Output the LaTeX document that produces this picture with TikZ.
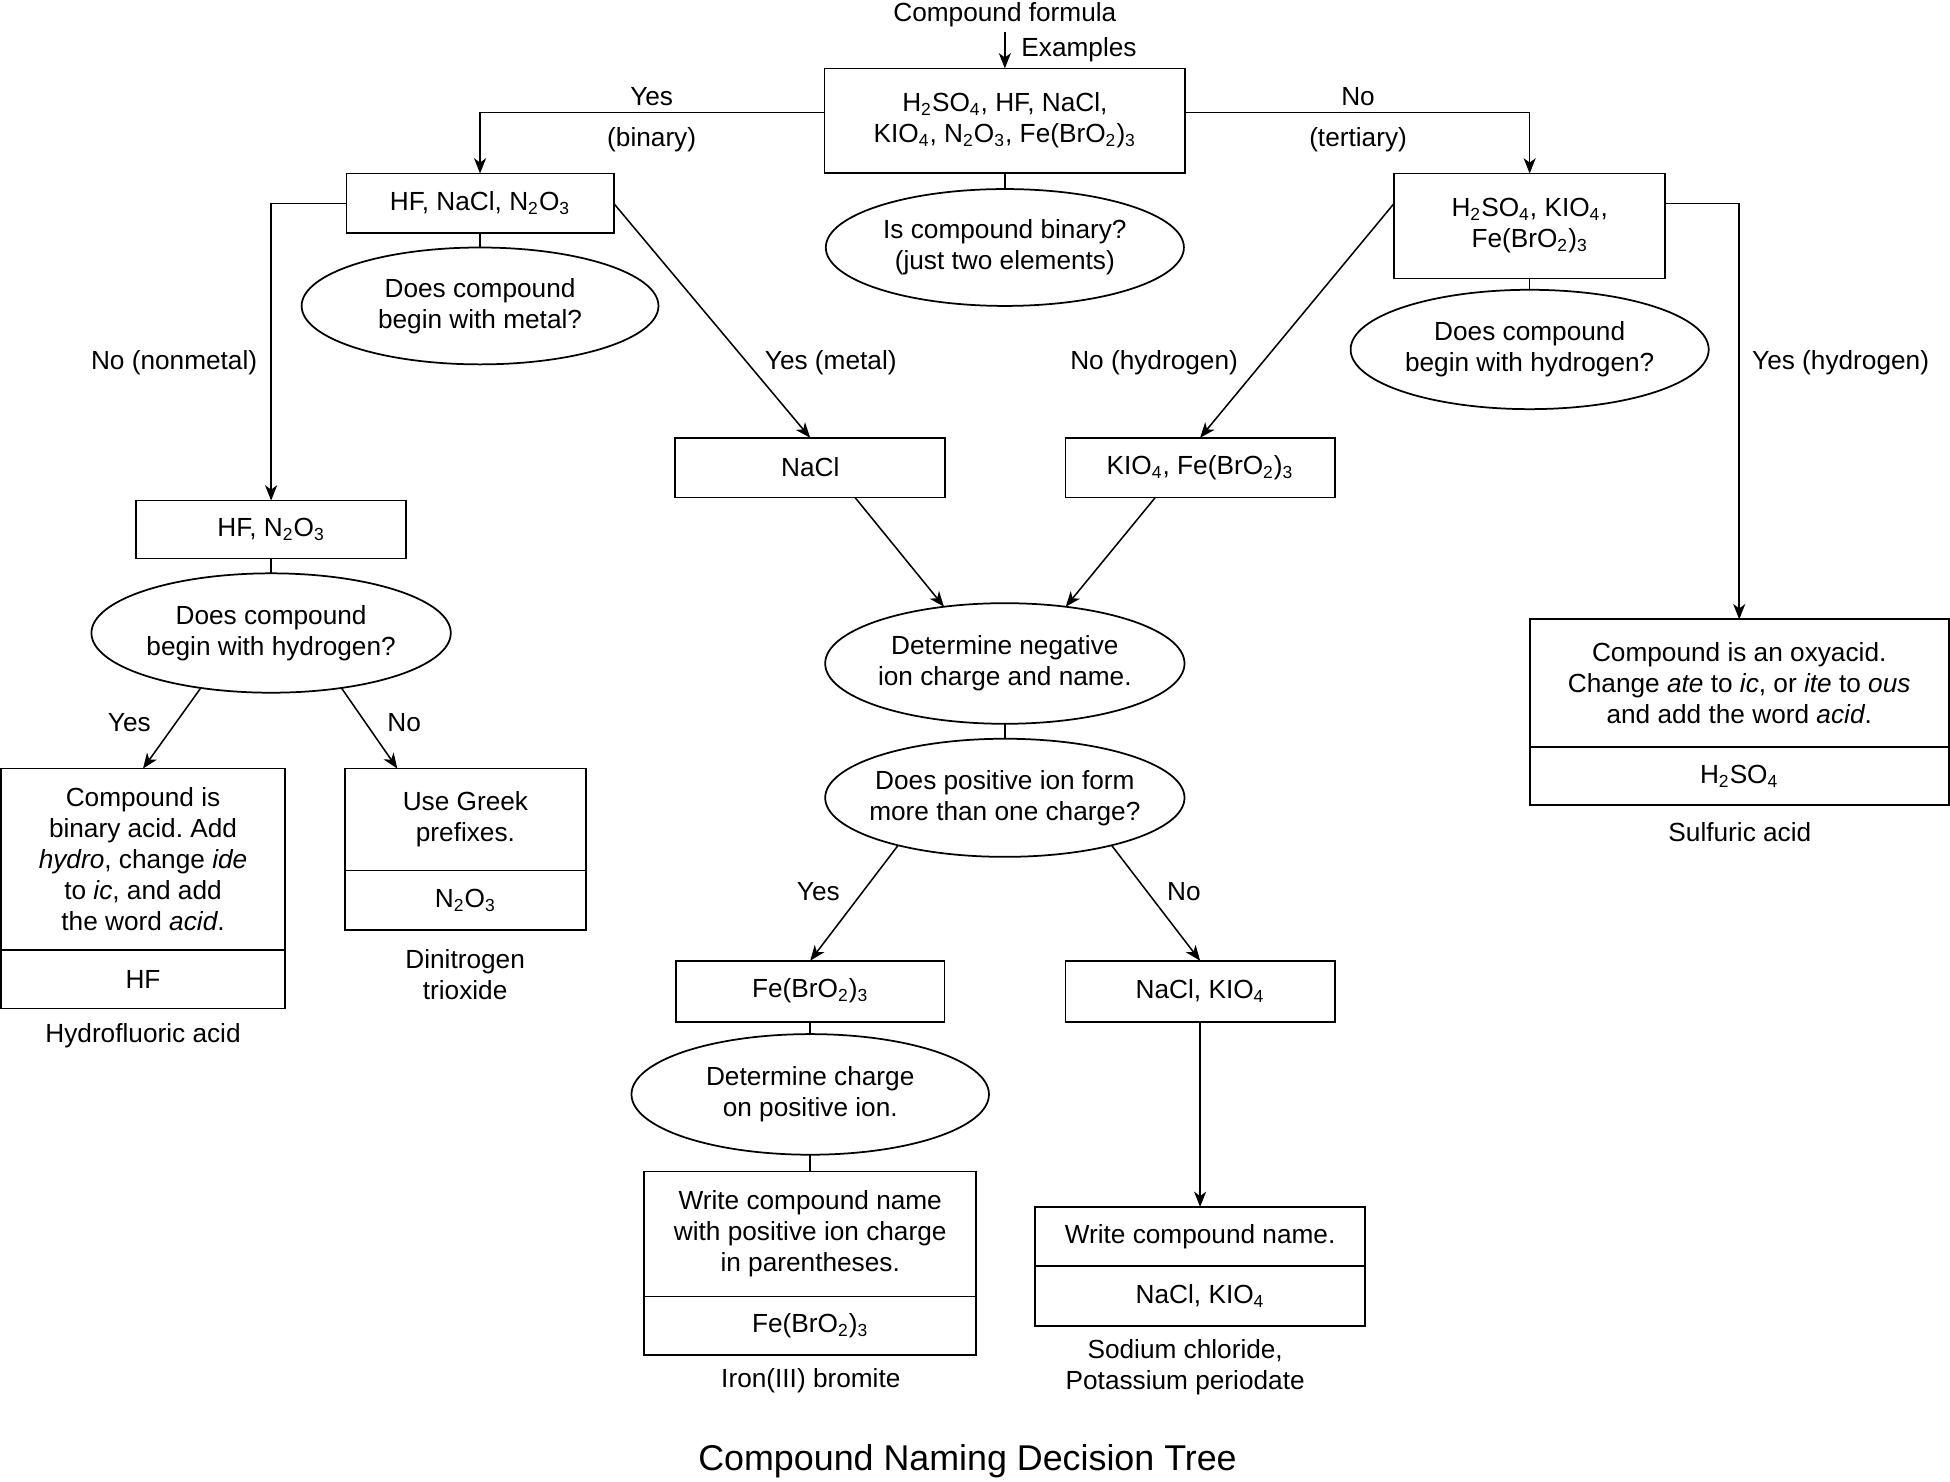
\documentclass[tikz,border=0pt]{standalone}
\usepackage{fontspec}
\setmainfont{Liberation Sans}
\usetikzlibrary{shapes.geometric,arrows.meta}
\newcommand{\chs}[1]{\textsubscript{#1}}
\frenchspacing
\begin{document}
\begin{tikzpicture}[x=0.02cm,y=-0.02cm,
  every node/.style={font=\fontsize{12}{14.2}\selectfont, align=center},
  box/.style={draw, line width=0.8pt, rectangle, inner sep=0pt, outer sep=0pt},
  oval/.style={draw, line width=0.8pt, ellipse, inner ysep=0pt, inner xsep=-0.3cm, outer sep=0pt, minimum width=5.76cm},
  lbl/.style={inner sep=0pt},
  conn/.style={line width=0.7pt},
  arr/.style={line width=0.7pt, -{Stealth[length=7pt,width=5.5pt,inset=2pt]}}
]
\useasboundingbox (0,0) rectangle (1568,1191);

% top
\node[lbl] (formula) at (808,12) {Compound formula};
\coordinate (fstart) at (808,25.5);
\node[box, minimum width=5.8cm, minimum height=1.68cm] (main) at (808,97)
  {H\chs2SO\chs4, HF, NaCl,\\KIO\chs4, N\chs2O\chs3, Fe(BrO\chs2)\chs3};
\node[lbl, anchor=west] (examples) at (821,40) {Examples};
\node[oval, minimum height=1.88cm] (qbin) at (808,199) {Is compound binary?\\(just two elements)};

\node[lbl] (yesbin) at (524,77.5) {Yes};
\node[lbl] (binlbl) at (524,112.5) {(binary)};
\node[lbl] (noter) at (1092,77.5) {No};
\node[lbl] (terlbl) at (1092,112.5) {(tertiary)};

% second row
\node[box, minimum width=4.3cm, minimum height=0.96cm] (binbox) at (386,163.5) {HF, NaCl, N\chs2O\chs3};
\node[oval, minimum width=5.74cm, minimum height=1.88cm] (qmetal) at (386,246) {Does compound\\begin with metal?};
\node[box, minimum width=4.36cm, minimum height=1.69cm] (terbox) at (1230,181.75) {H\chs2SO\chs4, KIO\chs4,\\Fe(BrO\chs2)\chs3};
\node[oval, minimum height=1.92cm] (qhyd1) at (1230,281) {Does compound\\begin with hydrogen?};

\node[lbl] (nonmet) at (140,292) {No (nonmetal)};
\node[lbl] (yesmet) at (668,292) {Yes (metal)};
\node[lbl] (nohyd) at (928,292) {No (hydrogen)};
\node[lbl] (yeshyd) at (1480,292) {Yes (hydrogen)};

% third row
\node[box, minimum width=4.34cm, minimum height=0.93cm] (hfn) at (218,425.75) {HF, N\chs2O\chs3};
\node[oval, minimum width=5.78cm, minimum height=1.92cm] (qhyd2) at (218,509) {Does compound\\begin with hydrogen?};
\node[box, minimum width=4.34cm, minimum height=0.96cm] (nacl) at (651.5,376) {NaCl};
\node[box, minimum width=4.33cm, minimum height=0.96cm] (kio) at (965,376) {KIO\chs4, Fe(BrO\chs2)\chs3};

% left results
\node[lbl] (yesl) at (104,581) {Yes};
\node[lbl] (nol) at (325,581) {No};
\node[box, minimum width=4.56cm, minimum height=2.92cm] (binacidA) at (115,691)
  {Compound is\\binary acid. Add\\\textit{hydro}, change \textit{ide}\\to \textit{ic}, and add\\the word \textit{acid}.};
\node[box, minimum width=4.56cm, minimum height=0.94cm] (binacidB) at (115,787.5) {HF};
\node[lbl] (hfname) at (115,833) {Hydrofluoric acid};
\node[box, minimum width=3.87cm, minimum height=1.64cm] (greekA) at (374.25,659) {Use Greek\\prefixes.};
\node[box, minimum width=3.87cm, minimum height=0.96cm] (greekB) at (374.25,724) {N\chs2O\chs3};
\node[lbl] (n2o3name) at (374,783.5) {Dinitrogen\\trioxide};

% right result
\node[box, minimum width=6.74cm, minimum height=2.05cm] (oxyA) at (1398.5,549.25)
  {Compound is an oxyacid.\\Change \textit{ate} to \textit{ic}, or \textit{ite} to \textit{ous}\\and add the word \textit{acid}.};
\node[box, minimum width=6.74cm, minimum height=0.94cm] (oxyB) at (1398.5,624) {H\chs2SO\chs4};
\node[lbl] (h2so4name) at (1399,669) {Sulfuric acid};

% centre column
\node[oval, minimum width=5.78cm, minimum height=1.94cm] (negion) at (808,533.5) {Determine negative\\ion charge and name.};
\node[oval, minimum width=5.78cm, minimum height=1.9cm] (posion) at (808,641.5) {Does positive ion form\\more than one charge?};
\node[lbl] (yesc) at (658,717) {Yes};
\node[lbl] (noc) at (952,717) {No};
\node[box, minimum width=4.32cm, minimum height=0.98cm] (fe) at (651.5,797) {Fe(BrO\chs2)\chs3};
\node[box, minimum width=4.33cm, minimum height=0.98cm] (naclkio) at (965,797) {NaCl, KIO\chs4};
\node[oval, minimum width=5.75cm, minimum height=1.94cm] (detcharge) at (651.5,880) {Determine charge\\on positive ion.};
\node[box, minimum width=5.34cm, minimum height=2.01cm] (write1A) at (651.5,992.25)
  {Write compound name\\with positive ion charge\\in parentheses.};
\node[box, minimum width=5.34cm, minimum height=0.944cm] (write1B) at (651.5,1066.1) {Fe(BrO\chs2)\chs3};
\node[lbl] (fename) at (652,1110) {Iron(III) bromite};
\node[box, minimum width=5.3cm, minimum height=0.95cm] (write2A) at (965,994.25) {Write compound name.};
\node[box, minimum width=5.3cm, minimum height=0.96cm] (write2B) at (965,1042) {NaCl, KIO\chs4};
\node[lbl] (naclname) at (953,1099.5) {Sodium chloride,\\Potassium periodate};

\node[lbl, font=\fontsize{16.4}{19}\selectfont] (title) at (778,1175) {Compound Naming Decision Tree};

% connectors
\draw[arr] (fstart) -- (main.north);
\draw[arr] ([yshift=0.13cm]main.west) -| (binbox.north);
\draw[arr] ([yshift=0.13cm]main.east) -| (terbox.north);
\draw[conn] (main.south) -- (qbin.north);
\draw[conn] (binbox.south) -- (qmetal.north);
\draw[arr] (binbox.west) -| (hfn.north);
\draw[arr] (binbox.east) -- (nacl.north);
\draw[conn] (terbox.south) -- (qhyd1.north);
\draw[arr] (terbox.west |- binbox.east) -- (kio.north);
\draw[arr] (terbox.east |- binbox.east) -| (oxyA.north);
\draw[conn] (hfn.south) -- (qhyd2.north);
\draw[arr] (qhyd2.218) -- (binacidA.north);
\draw[arr] (qhyd2.-38) -- ([xshift=0.84cm]greekA.north west);
\draw[arr] ([xshift=0.72cm]nacl.south) -- (negion.137);
\draw[arr] ([xshift=-0.72cm]kio.south) -- (negion.43);
\draw[conn] (negion.south) -- (posion.north);
\draw[arr] (posion.204) -- (fe.north);
\draw[arr] (posion.-24) -- (naclkio.north);
\draw[conn] (fe.south) -- (detcharge.north);
\draw[conn] (detcharge.south) -- (write1A.north);
\draw[arr] (naclkio.south) -- (write2A.north);
\end{tikzpicture}
\end{document}
